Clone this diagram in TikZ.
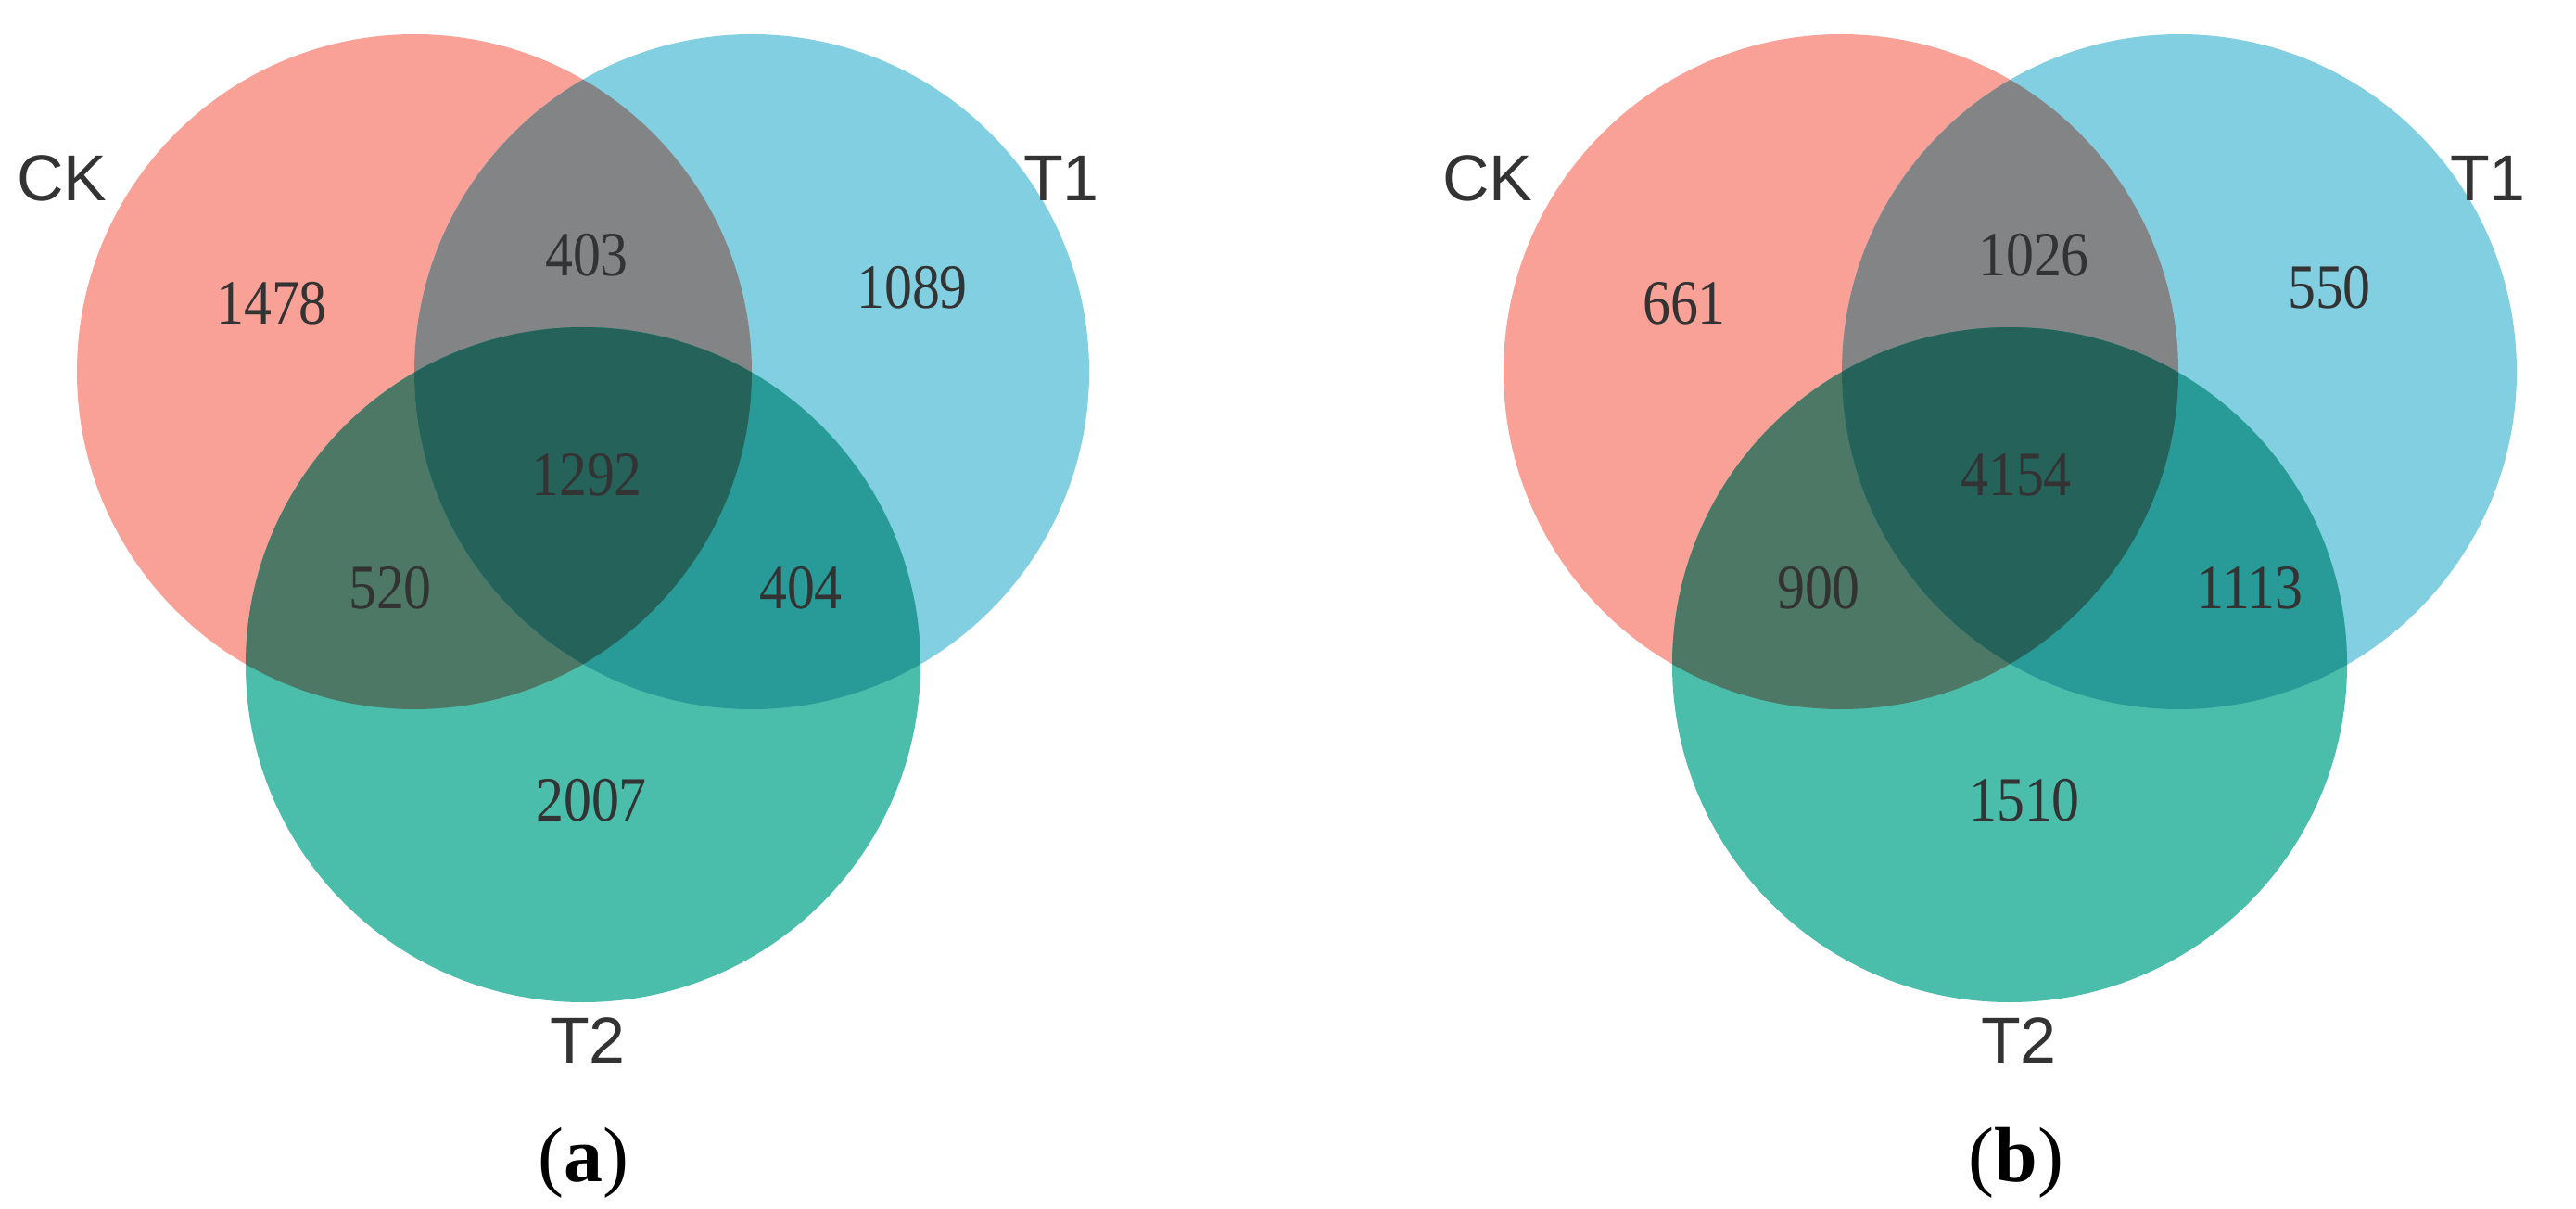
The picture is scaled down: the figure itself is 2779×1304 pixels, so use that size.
\documentclass[tikz,border=0pt]{standalone}
\usepackage{fontspec}
\setmainfont{Liberation Serif}
\newfontfamily\labelfont{Liberation Sans}
\definecolor{ckcol}{HTML}{F9A197}
\definecolor{tacol}{HTML}{83CFE2}
\definecolor{tbcol}{HTML}{4BBDAB}
\definecolor{ckta}{HTML}{838486}
\definecolor{cktb}{HTML}{4D7866}
\definecolor{tatb}{HTML}{289B98}
\definecolor{allcol}{HTML}{256259}
\definecolor{numgray}{HTML}{333333}
\definecolor{labgray}{HTML}{333333}
\newcommand\venndraw[3]{%
  \fill[ckcol] (#1) circle[radius=182pt];
  \fill[tacol] (#2) circle[radius=182pt];
  \fill[tbcol] (#3) circle[radius=182pt];
  \begin{scope}\clip (#1) circle[radius=182pt]; \fill[ckta] (#2) circle[radius=182pt]; \end{scope}
  \begin{scope}\clip (#1) circle[radius=182pt]; \fill[cktb] (#3) circle[radius=182pt]; \end{scope}
  \begin{scope}\clip (#2) circle[radius=182pt]; \fill[tatb] (#3) circle[radius=182pt]; \end{scope}
  \begin{scope}\clip (#1) circle[radius=182pt]; \clip (#2) circle[radius=182pt]; \fill[allcol] (#3) circle[radius=182pt]; \end{scope}
}
\begin{document}
\begin{tikzpicture}[x=0.5pt,y=-0.5pt,
  num/.style={text=numgray, font=\fontsize{34}{38}\selectfont, xscale=0.88, inner sep=0pt},
  setlabel/.style={text=labgray, font=\labelfont\fontsize{35}{40}\selectfont, inner sep=0pt},
  capt/.style={text=black, font=\fontsize{42}{48}\selectfont, inner sep=0pt}]
\useasboundingbox (0,0) rectangle (2779,1304);
\fill[white] (0,0) rectangle (2779,1304);
% panel (a)
\venndraw{447,401}{811,401}{629,717}
\node[setlabel] (ckA) at (67,192) {CK};
\node[setlabel] (taA) at (1145,192) {T1};
\node[setlabel] (tbA) at (634,1122) {T2};
\node[num] (a1) at (293,327) {1478};
\node[num] (a2) at (633,275) {403};
\node[num] (a3) at (984,310) {1089};
\node[num] (a4) at (633,512) {1292};
\node[num] (a5) at (421,634) {520};
\node[num] (a6) at (864,634) {404};
\node[num] (a7) at (638,863) {2007};
\node[capt] (capA) at (629,1254) {(\textbf{a})};
% panel (b)
\venndraw{1986,401}{2351,401}{2168,717}
\node[setlabel] (ckB) at (1605,192) {CK};
\node[setlabel] (taB) at (2684,192) {T1};
\node[setlabel] (tbB) at (2178,1122) {T2};
\node[num] (b1) at (1817,327) {661};
\node[num] (b2) at (2194,275) {1026};
\node[num] (b3) at (2513,310) {550};
\node[num] (b4) at (2175,512) {4154};
\node[num] (b5) at (1962,634) {900};
\node[num] (b6) at (2427,634) {1113};
\node[num] (b7) at (2184,863) {1510};
\node[capt] (capB) at (2175,1254) {(\textbf{b})};
\end{tikzpicture}
\end{document}
